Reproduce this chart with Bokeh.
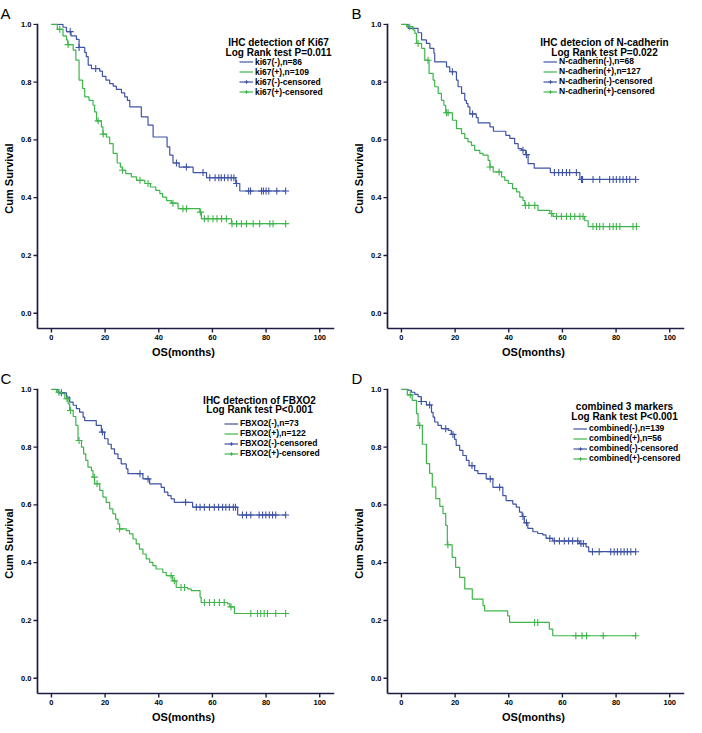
import numpy as np
from bokeh.plotting import figure
from bokeh.layouts import gridplot
from bokeh.models import Legend, LegendItem, Label, FixedTicker, PrintfTickFormatter, Range1d, Title
from bokeh.embed import file_html
from bokeh.resources import INLINE

# ---------------- data (months, cumulative survival) ----------------
# Panel A: Ki67
a_neg_t = [4.3, 5.6, 7.3, 9.3, 10.3, 12.4, 13.0, 13.7, 14.9, 18.0, 19.0, 20.3, 21.7, 23.0, 24.2, 26.1, 27.3,
           28.3, 29.2, 33.5, 36.0, 37.9, 43.1, 44.1, 45.3, 47.6, 52.8, 57.8, 68.7, 70.2]
a_neg_s = [0.99, 0.975, 0.96, 0.948, 0.92, 0.903, 0.888, 0.859, 0.847, 0.838, 0.82, 0.807, 0.795, 0.786, 0.775,
           0.763, 0.749, 0.737, 0.714, 0.68, 0.651, 0.61, 0.576, 0.547, 0.52, 0.506, 0.487, 0.469, 0.449, 0.423]
a_neg_c = [7.0, 10.3, 16.5, 46.6, 50.3, 56.5, 59.0, 61.0, 62.4, 63.3, 64.5, 65.8, 67.0, 68.0, 69.0, 73.5, 74.2,
           78.3, 79.0, 80.0, 81.0, 84.0, 87.3]
a_pos_t = [2.2, 4.3, 5.6, 6.1, 8.1, 9.1, 10.3, 11.6, 12.4, 14.0, 15.5, 16.1, 16.8, 18.6, 19.2, 20.5, 21.7, 23.0,
           24.5, 25.7, 26.4, 27.7, 29.8, 31.7, 34.8, 36.9, 38.9, 40.4, 41.4, 42.9, 44.7, 47.2, 55.3, 55.9, 67.1]
a_pos_s = [0.983, 0.96, 0.946, 0.93, 0.911, 0.876, 0.807, 0.778, 0.749, 0.737, 0.72, 0.697, 0.666, 0.645, 0.62,
           0.61, 0.587, 0.553, 0.52, 0.506, 0.495, 0.483, 0.472, 0.46, 0.449, 0.437, 0.425, 0.414, 0.402, 0.39,
           0.381, 0.362, 0.35, 0.327, 0.31]
a_pos_c = [3.1, 6.2, 17.4, 19.3, 26.5, 33.0, 36.0, 45.3, 49.0, 50.3, 55.5, 57.0, 58.4, 60.2, 61.7, 63.4, 65.2,
           67.3, 69.0, 70.8, 72.7, 75.2, 77.6, 81.4, 82.6, 87.3]

# Panel B: N-cadherin
b_neg_t = [2.5, 6.2, 7.5, 9.3, 10.6, 12.1, 12.4, 16.8, 18.0, 20.5, 21.1, 22.4, 23.6, 24.2, 24.8, 25.5, 27.9,
           28.6, 33.0, 34.3, 38.9, 40.4, 42.2, 43.5, 44.8, 46.3, 47.2, 49.5, 55.5, 66.5]
b_neg_s = [0.986, 0.971, 0.946, 0.934, 0.917, 0.9, 0.87, 0.853, 0.836, 0.807, 0.784, 0.761, 0.737, 0.726, 0.714,
           0.69, 0.677, 0.659, 0.645, 0.63, 0.616, 0.605, 0.587, 0.57, 0.564, 0.549, 0.518, 0.502, 0.487, 0.463]
b_neg_c = [19.0, 26.5, 45.3, 46.6, 57.0, 58.6, 60.0, 61.5, 62.7, 65.2, 67.1, 67.5, 71.4, 73.9, 77.6, 78.9,
           80.1, 81.4, 82.6, 83.9, 85.1, 87.3]
b_pos_t = [1.9, 4.3, 5.0, 5.6, 7.5, 8.7, 10.3, 11.8, 12.4, 13.7, 14.9, 15.8, 16.5, 19.0, 20.5, 22.4, 23.6, 24.8,
           26.1, 27.3, 29.2, 30.4, 32.3, 33.0, 34.2, 37.3, 38.5, 39.8, 41.4, 42.9, 44.1, 45.3, 46.0, 50.9, 55.3,
           56.5, 68.3, 69.6]
b_pos_s = [0.992, 0.98, 0.969, 0.934, 0.917, 0.876, 0.83, 0.807, 0.784, 0.761, 0.737, 0.72, 0.694, 0.668, 0.639,
           0.622, 0.605, 0.593, 0.581, 0.564, 0.553, 0.547, 0.529, 0.506, 0.489, 0.472, 0.46, 0.449, 0.431, 0.42,
           0.402, 0.39, 0.373, 0.356, 0.345, 0.335, 0.32, 0.3]
b_pos_c = [3.1, 6.2, 9.9, 16.8, 17.4, 33.0, 36.4, 46.2, 47.5, 49.7, 56.0, 57.8, 59.6, 61.5, 63.0, 64.6, 66.5,
           67.7, 71.4, 72.7, 73.9, 75.2, 77.6, 78.9, 80.1, 81.4, 86.3, 87.6]

# Panel C: FBXO2
c_neg_t = [2.5, 5.6, 6.8, 8.1, 9.3, 10.5, 11.8, 12.4, 16.7, 18.6, 19.8, 21.1, 22.3, 23.5, 24.8, 26.0, 27.9,
           28.5, 34.1, 36.6, 40.9, 42.1, 43.4, 44.6, 45.8, 52.6, 69.4]
c_neg_s = [0.988, 0.973, 0.956, 0.945, 0.933, 0.921, 0.904, 0.892, 0.875, 0.852, 0.829, 0.81, 0.794, 0.777,
           0.76, 0.742, 0.725, 0.708, 0.69, 0.673, 0.661, 0.644, 0.632, 0.621, 0.609, 0.592, 0.565]
c_neg_c = [3.7, 19.0, 33.0, 36.0, 50.0, 54.0, 55.4, 57.0, 58.9, 60.7, 62.3, 63.8, 65.0, 66.3, 67.8, 68.6, 71.2,
           72.7, 74.3, 77.4, 78.7, 79.9, 81.2, 82.4, 83.6, 87.3]
c_pos_t = [1.9, 3.7, 5.0, 6.2, 6.8, 8.1, 9.1, 9.9, 11.2, 12.0, 12.8, 13.6, 14.9, 15.5, 16.1, 18.0, 19.2, 20.4,
           21.7, 22.9, 23.9, 24.8, 25.4, 27.9, 29.1, 30.4, 31.6, 32.8, 34.1, 35.3, 36.6, 37.8, 39.0, 41.5, 42.8,
           45.2, 46.5, 50.8, 52.1, 55.4, 55.8, 65.7, 66.5, 68.2]
c_pos_s = [0.99, 0.985, 0.968, 0.95, 0.927, 0.906, 0.875, 0.823, 0.8, 0.777, 0.754, 0.731, 0.719, 0.696, 0.673,
           0.65, 0.627, 0.609, 0.586, 0.569, 0.551, 0.534, 0.517, 0.511, 0.5, 0.482, 0.465, 0.447, 0.43, 0.413,
           0.401, 0.39, 0.378, 0.366, 0.355, 0.337, 0.314, 0.309, 0.303, 0.28, 0.262, 0.257, 0.247, 0.224]
c_pos_c = [2.8, 5.8, 7.1, 10.3, 16.0, 17.0, 25.4, 44.6, 45.8, 48.3, 49.6, 57.0, 58.9, 60.7, 62.6, 64.4, 66.9,
           74.3, 76.8, 78.0, 79.3, 80.5, 83.6, 87.3]

# Panel D: combined 3 markers
d_neg_t = [2.5, 3.7, 5.0, 6.2, 7.4, 9.3, 11.2, 11.8, 12.4, 13.6, 14.9, 17.4, 18.6, 19.8, 20.4, 21.7, 22.9, 24.2,
           25.2, 27.3, 28.5, 31.6, 34.1, 37.8, 39.0, 41.5, 42.8, 44.0, 45.0, 45.8, 47.1, 49.0, 50.8, 52.7, 53.9,
           56.4, 66.3, 68.8, 69.8]
d_neg_s = [0.997, 0.99, 0.983, 0.975, 0.958, 0.946, 0.92, 0.904, 0.887, 0.875, 0.864, 0.858, 0.844, 0.827, 0.806,
           0.789, 0.771, 0.754, 0.736, 0.719, 0.708, 0.69, 0.661, 0.632, 0.615, 0.603, 0.592, 0.575, 0.56, 0.538,
           0.519, 0.507, 0.501, 0.496, 0.484, 0.475, 0.466, 0.455, 0.438]
d_neg_c = [7.4, 10.5, 16.5, 19.2, 26.3, 33.1, 36.6, 45.3, 46.6, 55.3, 57.0, 58.9, 60.7, 62.3, 63.8, 65.7, 66.9,
           67.8, 71.2, 73.7, 78.0, 79.3, 80.5, 81.8, 83.0, 84.2, 85.5, 87.3]
d_pos_t = [2.2, 4.0, 5.6, 6.2, 7.8, 9.3, 10.5, 11.5, 12.8, 14.3, 15.5, 16.5, 17.1, 18.9, 20.2, 21.7, 23.6, 26.4,
           30.4, 31.0, 39.6, 40.3, 55.1, 56.4]
d_pos_s = [0.981, 0.962, 0.916, 0.875, 0.81, 0.743, 0.709, 0.662, 0.622, 0.595, 0.57, 0.529, 0.462, 0.418,
           0.384, 0.349, 0.309, 0.274, 0.251, 0.233, 0.216, 0.193, 0.17, 0.147]
d_pos_c = [3.3, 6.8, 17.3, 49.6, 50.8, 65.0, 67.3, 69.0, 75.2, 87.3]

# texts
letters = ["A", "B", "C", "D"]
titles1 = ["IHC detection of Ki67", "IHC detecion of N-cadherin", "IHC detection of FBXO2", "combined 3 markers"]
titles2 = ["Log Rank test P=0.011", "Log Rank test P=0.022", "Log Rank test P<0.001", "Log Rank test P<0.001"]
names = ["ki67", "N-cadherin", "FBXO2", "combined"]
n_neg = [86, 68, 73, 139]
n_pos = [109, 127, 122, 56]
x_ticks = [0, 20, 40, 60, 80, 100]
y_ticks = [0.0, 0.2, 0.4, 0.6, 0.8, 1.0]

series = [
    (a_neg_t, a_neg_s, a_neg_c, a_pos_t, a_pos_s, a_pos_c),
    (b_neg_t, b_neg_s, b_neg_c, b_pos_t, b_pos_s, b_pos_c),
    (c_neg_t, c_neg_s, c_neg_c, c_pos_t, c_pos_s, c_pos_c),
    (d_neg_t, d_neg_s, d_neg_c, d_pos_t, d_pos_s, d_pos_c),
]

# ---------------- style / layout ----------------
BLUE = "#3f53a6"
GREEN = "#3db54a"
AXIS = "#1c1c44"
FONT = "Liberation Sans"
FW, FH = 302, 310
X0, X1 = -7.06, 105.5          # x range (frame)
Y0, Y1 = -0.0703, 1.003        # y range (frame)
XA, YA = -5.2, -0.053          # where the axis lines sit
TICK = 4                       # tick length in px

# per panel: borders (left, right, bottom), letter offset, legend x/top, title x, title y offsets
layout = [
    dict(b=(32, 16, 32), off=-32, lx=207, lt=36.5, tx=246, ty=(18.4, 28.0)),
    dict(b=(28, 5, 32), off=-31, lx=161, lt=36.0, tx=222, ty=(18.4, 28.0)),
    dict(b=(32, 16, 25), off=-32, lx=192, lt=33.2, tx=227, ty=(11.0, 20.4)),
    dict(b=(28, 5, 25), off=-31, lx=191, lt=38.2, tx=242, ty=(17.0, 26.7)),
]


def km(p, t, s, cens, color):
    end = max(cens)
    xs = [0.0] + list(t) + [end]
    ys = [1.0] + list(s) + [s[-1]]
    r_line = p.step(xs, ys, mode="after", line_color=color, line_width=1.2)
    sfull = np.array([1.0] + list(s))
    idx = np.searchsorted(np.array(t), np.array(cens), side="right")
    r_c = p.scatter(cens, sfull[idx], marker="cross", size=7, line_color=color, line_width=1.1)
    return r_line, r_c


def panel(i):
    L = layout[i]
    bl, br, bb = L["b"]
    p = figure(frame_width=FW, frame_height=FH, output_backend="svg", toolbar_location=None,
               x_range=Range1d(X0, X1), y_range=Range1d(Y0, Y1),
               min_border_left=bl, min_border_right=br, min_border_top=0, min_border_bottom=bb)
    p.outline_line_color = None
    p.grid.visible = False
    for ax in (p.xaxis, p.yaxis):
        ax.axis_line_color = None
        ax.major_tick_line_color = None
        ax.minor_tick_line_color = None
        ax.major_tick_out = 0
        ax.major_tick_in = 0
        ax.minor_tick_out = 0
        ax.minor_tick_in = 0
        ax.major_label_text_font = FONT
        ax.major_label_text_font_style = "bold"
        ax.major_label_text_font_size = "7.5px"
        ax.major_label_text_color = "black"
        ax.axis_label_text_font = FONT
        ax.axis_label_text_font_style = "bold"
        ax.axis_label_text_font_size = "11px"
        ax.axis_label_text_color = "black"
        ax.major_label_standoff = 1
    p.xaxis.ticker = FixedTicker(ticks=x_ticks)
    p.yaxis.ticker = FixedTicker(ticks=y_ticks)
    p.yaxis.formatter = PrintfTickFormatter(format="%.1f")
    p.xaxis.axis_label = "OS(months)"
    p.yaxis.axis_label = "Cum Survival"
    p.xaxis.axis_label_standoff = 3
    p.yaxis.axis_label_standoff = 3

    # axis rules and tick marks (drawn inside the frame)
    dx = TICK * (X1 - X0) / FW
    dy = TICK * (Y1 - Y0) / FH
    p.segment(x0=[XA, XA], y0=[YA, YA], x1=[X1, XA], y1=[YA, Y1], line_color=AXIS, line_width=1.7)
    p.segment(x0=[XA - dx] * len(y_ticks), y0=y_ticks, x1=[XA] * len(y_ticks), y1=y_ticks,
              line_color=AXIS, line_width=1.4)
    p.segment(x0=x_ticks, y0=[YA - dy] * len(x_ticks), x1=x_ticks, y1=[YA] * len(x_ticks),
              line_color=AXIS, line_width=1.4)

    nt, ns, nc, pt, ps, pc = series[i]
    ln, cn = km(p, nt, ns, nc, BLUE)
    lp, cp = km(p, pt, ps, pc, GREEN)

    nm = names[i]
    items = [
        LegendItem(label=f"{nm}(-),n={n_neg[i]}", renderers=[ln]),
        LegendItem(label=f"{nm}(+),n={n_pos[i]}", renderers=[lp]),
        LegendItem(label=f"{nm}(-)-censored", renderers=[ln, cn]),
        LegendItem(label=f"{nm}(+)-censored", renderers=[lp, cp]),
    ]
    leg = Legend(items=items, location=(L["lx"], FH - L["lt"] - 37), padding=0, margin=0, spacing=0,
                 label_height=9, glyph_height=9, glyph_width=14, label_standoff=2,
                 label_text_font=FONT, label_text_font_style="bold", label_text_font_size="8.5px",
                 label_text_color="black", border_line_color=None, background_fill_alpha=0)
    p.add_layout(leg)

    for txt, off in zip([titles1[i], titles2[i]], L["ty"]):
        p.add_layout(Label(x=L["tx"], y=FH - 1 - off, x_units="screen", y_units="screen", text=txt,
                           text_align="center", text_baseline="middle", text_font=FONT,
                           text_font_style="bold", text_font_size="10px", text_color="black"))
    p.add_layout(Title(text=letters[i], text_font=FONT, text_font_size="15px", text_font_style="normal",
                       text_color="black", align="left", offset=L["off"], standoff=4,
                       text_line_height=1.0), "above")
    return p


plots = [panel(i) for i in range(4)]
grid = gridplot([[plots[0], plots[1]], [plots[2], plots[3]]], toolbar_location=None)

open("out.html", "w").write(file_html(grid, INLINE))
